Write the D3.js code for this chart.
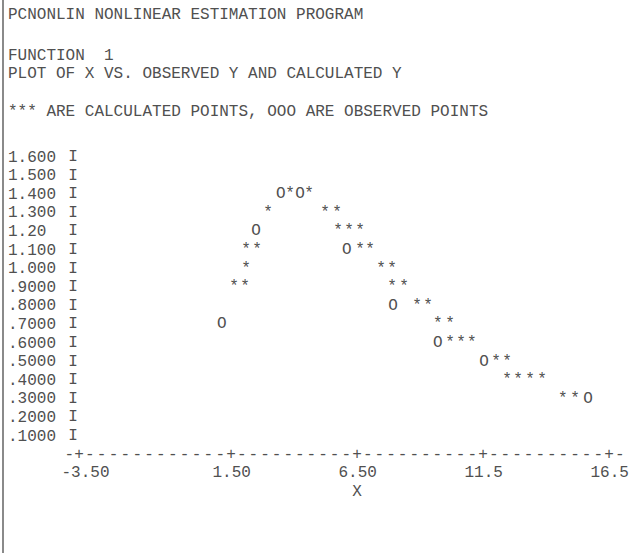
<!DOCTYPE html>
<html>
<head>
<meta charset="utf-8">
<script src="https://cdn.jsdelivr.net/npm/d3@7"></script>
<style>
  body { margin: 0; background: #fff; }
  svg text { font-family: "Liberation Mono", "DejaVu Sans Mono", monospace; font-size: 16px; fill: #505050; white-space: pre; }
</style>
</head>
<body>
<script>
// Printer-style header lines
const headerLines = [
  "PCNONLIN NONLINEAR ESTIMATION PROGRAM",
  "FUNCTION  1",
  "PLOT OF X VS. OBSERVED Y AND CALCULATED Y",
  "*** ARE CALCULATED POINTS, OOO ARE OBSERVED POINTS"
];

// Y axis rows and their printed labels
const yTickValues = [1.6, 1.5, 1.4, 1.3, 1.2, 1.1, 1.0, 0.9, 0.8, 0.7, 0.6, 0.5, 0.4, 0.3, 0.2, 0.1];
const yTickLabels = ["1.600", "1.500", "1.400", "1.300", "1.20", "1.100", "1.000", ".9000",
                     ".8000", ".7000", ".6000", ".5000", ".4000", ".3000", ".2000", ".1000"];

// X axis ticks and labels
const xTickValues = [-3.5, 1.5, 6.5, 11.5, 16.5];
const xTickLabels = ["-3.50", "1.50", "6.50", "11.5", "16.5"];
const xTitle = "X";

// Observed points (O)
const observedX = [3.48, 4.24, 2.49, 6.10, 7.93, 1.20, 9.71, 11.54, 15.67];
const observedY = [1.4, 1.4, 1.2, 1.1, 0.8, 0.7, 0.6, 0.5, 0.3];

// Calculated points (*)
const calculatedX = [3.84, 4.60,
                     2.97, 5.23, 5.71,
                     5.75, 6.18, 6.62,
                     2.10, 2.53, 6.62, 7.02,
                     2.10, 7.45, 7.89,
                     1.62, 2.06, 7.89, 8.37,
                     8.88, 9.32,
                     9.71, 10.19,
                     10.19, 10.63, 11.06,
                     12.02, 12.45,
                     12.45, 12.89, 13.37, 13.84,
                     14.67, 15.15];
const calculatedY = [1.4, 1.4,
                     1.3, 1.3, 1.3,
                     1.2, 1.2, 1.2,
                     1.1, 1.1, 1.1, 1.1,
                     1.0, 1.0, 1.0,
                     0.9, 0.9, 0.9, 0.9,
                     0.8, 0.8,
                     0.7, 0.7,
                     0.6, 0.6, 0.6,
                     0.5, 0.5,
                     0.4, 0.4, 0.4, 0.4,
                     0.3, 0.3];

const W = 631, H = 553;
const svg = d3.select("body").append("svg").attr("width", W).attr("height", H);

// page edge rule on the left
svg.append("line").attr("x1", 3).attr("x2", 3).attr("y1", 0).attr("y2", H)
  .attr("stroke", "#8a8a8a").attr("stroke-width", 2);

// the printer's first axis segment is wider than the rest
const x = d3.scaleLinear().domain([-3.5, 1.5, 16.5]).range([79, 231, 609]);
const y = d3.scaleLinear().domain([0.1, 1.6]).range([436, 157]);
const rowStep = y(0.1) - y(0.2);
const charW = 11.5; // printer column pitch along the axis row

// header
const headerY = [15, 56, 74, 112];
svg.selectAll("text.header").data(headerLines).join("text")
  .attr("class", "header").attr("x", 8).attr("y", (d, i) => headerY[i])
  .attr("dominant-baseline", "central").text(d => d);

// Y axis labels
const yAxis = d3.axisLeft(y).tickValues(yTickValues)
  .tickFormat((d, i) => yTickLabels[i]).tickSize(0).tickPadding(0);
const gy = svg.append("g").attr("transform", "translate(8,0)").call(yAxis);
gy.select(".domain").remove();
gy.selectAll("text").attr("text-anchor", "start").attr("x", 0)
  .attr("dy", null).attr("dominant-baseline", "central")
  .attr("font-family", null).attr("font-size", null).attr("fill", null);

// vertical axis drawn as "I" characters
svg.selectAll("text.bar").data(yTickValues).join("text")
  .attr("class", "bar").attr("x", 73).attr("y", d => y(d))
  .attr("text-anchor", "middle").attr("dominant-baseline", "central").text("I");

// X axis row: + at each tick, dashes between
const axisY = y(0.1) + rowStep;
const gx = svg.append("g");
gx.selectAll("text.plus").data(xTickValues).join("text")
  .attr("class", "plus").attr("x", d => x(d)).attr("y", axisY)
  .attr("text-anchor", "middle").attr("dominant-baseline", "central").text("+");
const seg = d3.pairs(xTickValues);
gx.selectAll("text.dash").data(seg).join("text")
  .attr("class", "dash").attr("x", d => x(d[0]) + 6).attr("y", axisY)
  .attr("dominant-baseline", "central")
  .attr("textLength", d => x(d[1]) - x(d[0]) - 12).attr("lengthAdjust", "spacing")
  .text(d => "-".repeat(Math.round((x(d[1]) - x(d[0])) / charW) - 1));
gx.append("text").attr("x", x(xTickValues[0]) - 5).attr("y", axisY)
  .attr("text-anchor", "end").attr("dominant-baseline", "central").text("-");
gx.append("text").attr("x", x(xTickValues[4]) + 6).attr("y", axisY)
  .attr("dominant-baseline", "central").text("-");

// X tick labels, left-aligned just before each tick
const xAxis = d3.axisBottom(x).tickValues(xTickValues)
  .tickFormat((d, i) => xTickLabels[i]).tickSize(0).tickPadding(0);
const gxl = svg.append("g").attr("transform", `translate(0,${axisY + rowStep})`).call(xAxis);
gxl.select(".domain").remove();
gxl.selectAll("text").attr("y", 0).attr("dy", null).attr("dominant-baseline", "central")
  .attr("text-anchor", "start").attr("x", (d, i) => i === 0 ? -18 : -19)
  .attr("font-family", null).attr("font-size", null).attr("fill", null);

svg.append("text").attr("x", x(6.5)).attr("y", axisY + 2 * rowStep)
  .attr("text-anchor", "middle").attr("dominant-baseline", "central").text(xTitle);

// plotted characters
const calc = calculatedX.map((v, i) => ({ x: v, y: calculatedY[i] }));
const obs = observedX.map((v, i) => ({ x: v, y: observedY[i] }));
svg.selectAll("text.calc").data(calc).join("text")
  .attr("class", "calc").attr("x", d => x(d.x)).attr("y", d => y(d.y))
  .attr("text-anchor", "middle").attr("dominant-baseline", "central").text("*");
svg.selectAll("text.obs").data(obs).join("text")
  .attr("class", "obs").attr("x", d => x(d.x)).attr("y", d => y(d.y))
  .attr("text-anchor", "middle").attr("dominant-baseline", "central").text("O");
</script>
</body>
</html>
